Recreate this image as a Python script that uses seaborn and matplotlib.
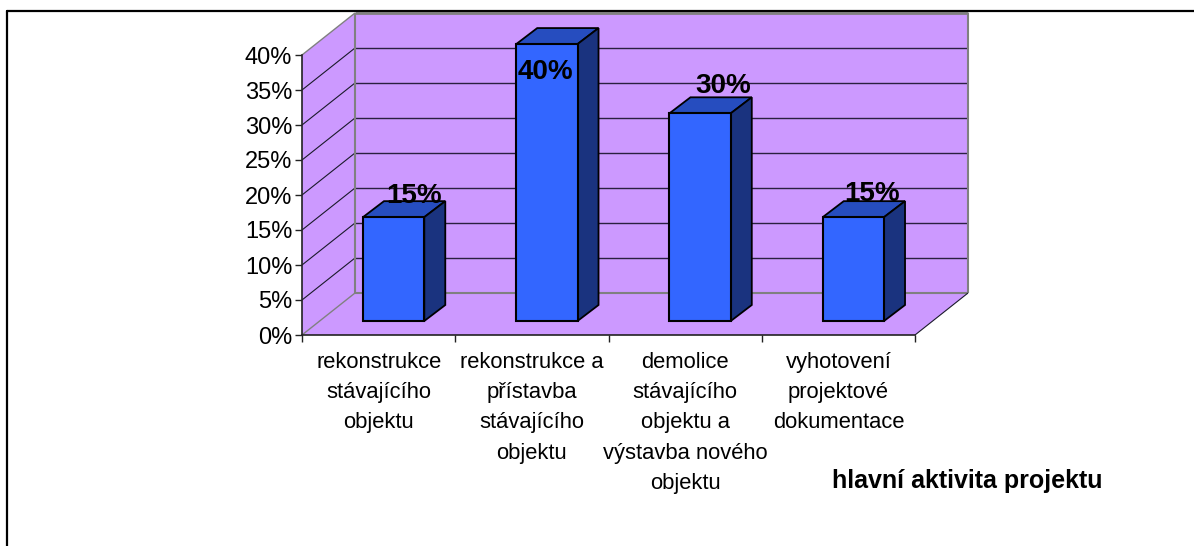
import numpy as np
import seaborn as sns
import matplotlib.pyplot as plt
from matplotlib.lines import Line2D
from matplotlib.patches import Polygon
from matplotlib.transforms import Affine2D, IdentityTransform

categories = ['rekonstrukce\nstávajícího\nobjektu',
              'rekonstrukce a\npřístavba\nstávajícího\nobjektu',
              'demolice\nstávajícího\nobjektu a\nvýstavba nového\nobjektu',
              'vyhotovení\nprojektové\ndokumentace']
values = [0.15, 0.40, 0.30, 0.15]
value_labels = ['15%', '40%', '30%', '15%']
y_ticks = [0, 0.05, 0.10, 0.15, 0.20, 0.25, 0.30, 0.35, 0.40]
y_tick_labels = ['0%', '5%', '10%', '15%', '20%', '25%', '30%', '35%', '40%']
axis_title = 'hlavní aktivita projektu'

W, H = 1194, 546
WALL = '#CC99FF'
FRONT = '#3366FF'
TOP = '#264DBF'
SIDE = '#1A337F'
EDGE_GREY = '#808080'

# 3D look, all in pixels
DEPTH = (53, 42)
BAR_SHIFT = (15, 14)
BAR_DEPTH = (21, 16)
# bars stand further back so they come out a little shorter than the axis scale
BAR_PERSPECTIVE = 0.989
# where the data labels sit relative to the top of each bar
LABEL_SHIFT = [(35, 34), (14, -17), (38, 39), (34, 36)]

sns.set_theme(style='white')
plt.rcParams['font.family'] = ['Liberation Sans', 'DejaVu Sans']

fig = plt.figure(figsize=(W / 100, H / 100), dpi=100, facecolor='white')
ax = fig.add_axes([302 / W, (H - 335) / H, 613 / W, 280 / H])

sns.barplot(x=list(range(4)), y=values, color=FRONT, saturation=1, width=0.4,
            edgecolor='black', linewidth=1.5, ax=ax, zorder=5)
ax.set_xlim(-0.5, 3.5)
ax.set_ylim(0, 0.4)
ax.patch.set_alpha(0)


def px(x, y, shift=(0, 0)):
    p = ax.transData.transform((x, y))
    return p[0] + shift[0], p[1] + shift[1]


def poly(points, face, edge='none', lw=0, z=1):
    ax.add_patch(Polygon(points, closed=True, facecolor=face, edgecolor=edge, linewidth=lw,
                         transform=IdentityTransform(), clip_on=False, zorder=z, joinstyle='miter'))


def line(a, b, color, lw=1.0, z=2):
    ax.add_line(Line2D([a[0], b[0]], [a[1], b[1]], color=color, linewidth=lw,
                       transform=IdentityTransform(), clip_on=False, zorder=z,
                       solid_capstyle='butt'))


x0, x1 = ax.get_xlim()
y0, y1 = ax.get_ylim()

# walls and floor
poly([px(x0, y0, DEPTH), px(x1, y0, DEPTH), px(x1, y1, DEPTH), px(x0, y1, DEPTH)], WALL)
poly([px(x0, y0), px(x0, y0, DEPTH), px(x0, y1, DEPTH), px(x0, y1)], WALL)
poly([px(x0, y0), px(x1, y0), px(x1, y0, DEPTH), px(x0, y0, DEPTH)], WALL)

for t in y_ticks[1:-1]:
    line(px(x0, t), px(x0, t, DEPTH), '#1a1a2a', 0.8)
    line(px(x0, t, DEPTH), px(x1, t, DEPTH), '#2a2040', 1.0)

line(px(x0, y0), px(x0, y0, DEPTH), EDGE_GREY, 1.0, 3)
line(px(x0, y1), px(x0, y1, DEPTH), EDGE_GREY, 1.0, 3)
line(px(x0, y0, DEPTH), px(x0, y1, DEPTH), EDGE_GREY, 1.5, 3)
line(px(x1, y0, DEPTH), px(x1, y1, DEPTH), EDGE_GREY, 1.5, 3)
line(px(x0, y0, DEPTH), px(x1, y0, DEPTH), EDGE_GREY, 1.5, 3)
line(px(x0, y1, DEPTH), px(x1, y1, DEPTH), EDGE_GREY, 2.0, 3)
line(px(x1, y0), px(x1, y0, DEPTH), '#1a1a2a', 0.8, 3)

# bars: slide the seaborn front faces back and add top and side
shift_tr = ax.transData + Affine2D().translate(*BAR_SHIFT)
for bar, val in zip(ax.patches[:4], values):
    h = val * BAR_PERSPECTIVE
    bar.set_height(h)
    bar.set_transform(shift_tr)
    bar.set_clip_on(False)
    l, r = bar.get_x(), bar.get_x() + bar.get_width()
    s = BAR_SHIFT
    b = (BAR_SHIFT[0] + BAR_DEPTH[0], BAR_SHIFT[1] + BAR_DEPTH[1])
    poly([px(l, h, s), px(r, h, s), px(r, h, b), px(l, h, b)], TOP, 'black', 1.3, 4)
    poly([px(r, 0, s), px(r, 0, b), px(r, h, b), px(r, h, s)], SIDE, 'black', 1.3, 4)

for i, (val, txt) in enumerate(zip(values, value_labels)):
    ax.annotate(txt, xy=(i, val), xytext=LABEL_SHIFT[i], textcoords='offset pixels',
                ha='center', va='center', fontsize=20, fontweight='bold', color='black',
                zorder=8, annotation_clip=False)

# axes
ax.set_yticks(y_ticks)
ax.set_yticklabels(y_tick_labels, fontsize=17, color='black')
ax.set_xticks(range(4))
ax.set_xticklabels(categories, fontsize=15.8, color='black', linespacing=1.58, va='top')
ax.set_xticks(np.arange(-0.5, 4, 1), minor=True)
ax.tick_params(axis='x', which='major', length=0, pad=12)
ax.tick_params(axis='x', which='minor', length=5, width=1, color='#222222', bottom=True)
ax.tick_params(axis='y', length=5, width=1, color='#222222', left=True, pad=2)
ax.set_xlabel('')
ax.set_ylabel('')
for name in ['top', 'right']:
    ax.spines[name].set_visible(False)
for name in ['left', 'bottom']:
    ax.spines[name].set_color('#222222')
    ax.spines[name].set_linewidth(1.2)
    ax.spines[name].set_zorder(3)

fig.text(967.5 / W, (H - 481) / H, axis_title, ha='center', va='center',
         fontsize=18, fontweight='bold', color='black')

# chart frame, open on the right and bottom
fig.add_artist(Line2D([7 / W, 7 / W], [0, (H - 11) / H], color='black', linewidth=1.6))
fig.add_artist(Line2D([7 / W, 1], [(H - 11) / H, (H - 11) / H], color='black', linewidth=1.6))

fig.savefig('out.png', dpi=100)
